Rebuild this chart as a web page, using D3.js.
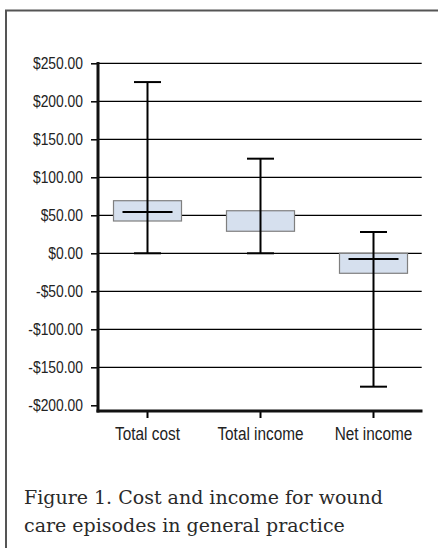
<!DOCTYPE html>
<html><head><meta charset="utf-8">
<script src="https://cdn.jsdelivr.net/npm/d3@7"></script>
<style>html,body{margin:0;padding:0;background:#fff;overflow:hidden}</style>
</head><body>
<svg id="c" width="438" height="548"></svg>
<script>
const categories = ["Total cost", "Total income", "Net income"];
const minVals = [0, 0, -175.5];
const q1Vals = [42.5, 29, -26.3];
const medianVals = [54.3, null, -7.5];
const q3Vals = [69.2, 56, 0];
const maxVals = [225.3, 124.5, 28];
const yTicks = [-200, -150, -100, -50, 0, 50, 100, 150, 200, 250];
const caption = ["Figure 1. Cost and income for wound", "care episodes in general practice"];

const svg = d3.select("#c");
const sans = "'Liberation Sans',Arial,sans-serif";

// frame
svg.append("rect").attr("x", 6).attr("y", 10.5).attr("width", 500).attr("height", 600)
  .attr("fill", "none").attr("stroke", "#555").attr("stroke-width", 2);

const y = d3.scaleLinear().domain([-207.5, 250]).range([411, 63.3]);
const x = d3.scaleBand().domain(categories).range([91, 430]);
const axX = 98, plotRight = 421.7;

// gridlines
svg.append("g").selectAll("line").data(yTicks.filter(t => t > -200)).join("line")
  .attr("x1", axX).attr("x2", plotRight)
  .attr("y1", d => y(d)).attr("y2", d => y(d))
  .attr("stroke", "#000").attr("stroke-width", 1.3);

// y axis
const ySx = 0.85;
const yAxis = d3.axisLeft(y).tickValues(yTicks).tickSize(7)
  .tickFormat(d => (d < 0 ? "-" : "") + "$" + Math.abs(d).toFixed(2));
const gy = svg.append("g").attr("transform", `translate(${axX},0)`).call(yAxis);
gy.select(".domain").remove();
gy.selectAll(".tick line").attr("stroke", "#000").attr("stroke-width", 1.5);
gy.selectAll(".tick text").attr("font-family", sans).attr("font-size", 16.3).attr("fill", "#222")
  .attr("x", -15 / ySx).attr("transform", `scale(${ySx},1)`);

const data = categories.map((c, i) => ({c, min: minVals[i], q1: q1Vals[i], med: medianVals[i], q3: q3Vals[i], max: maxVals[i]}));
const cx = d => x(d.c) + x.bandwidth() / 2;

// boxes
svg.append("g").selectAll("rect").data(data).join("rect")
  .attr("x", d => cx(d) - 34).attr("width", 68)
  .attr("y", d => y(d.q3)).attr("height", d => y(d.q1) - y(d.q3))
  .attr("fill", "#d6e0ee").attr("stroke", "#7f7f7f").attr("stroke-width", 1.2);

// whiskers
const w = svg.append("g").attr("stroke", "#000").attr("stroke-width", 2);
w.selectAll(".v").data(data).join("line")
  .attr("x1", cx).attr("x2", cx).attr("y1", d => y(d.max)).attr("y2", d => y(d.min));
w.selectAll(".top").data(data).join("line")
  .attr("x1", d => cx(d) - 13.5).attr("x2", d => cx(d) + 13.5).attr("y1", d => y(d.max)).attr("y2", d => y(d.max));
w.selectAll(".bot").data(data).join("line")
  .attr("x1", d => cx(d) - 13.5).attr("x2", d => cx(d) + 13.5).attr("y1", d => y(d.min)).attr("y2", d => y(d.min));
w.selectAll(".med").data(data.filter(d => d.med !== null)).join("line")
  .attr("x1", d => cx(d) - 25).attr("x2", d => cx(d) + 25).attr("y1", d => y(d.med)).attr("y2", d => y(d.med));

// y axis line
svg.append("line").attr("x1", axX).attr("x2", axX).attr("y1", 62).attr("y2", 412.5)
  .attr("stroke", "#111").attr("stroke-width", 3);

// x axis
const xSx = 0.83;
const xAxis = d3.axisBottom(x).tickSize(7);
const gx = svg.append("g").attr("transform", `translate(0,${y(-207.5)})`).call(xAxis);
gx.select(".domain").remove();
gx.selectAll(".tick line").attr("stroke", "#000").attr("stroke-width", 2);
gx.selectAll(".tick text").attr("font-family", sans).attr("font-size", 18.5).attr("fill", "#222")
  .attr("y", 29).attr("dy", 0).attr("transform", `scale(${xSx},1)`);
svg.append("line").attr("x1", axX - 1.5).attr("x2", 422.5).attr("y1", 411).attr("y2", 411)
  .attr("stroke", "#111").attr("stroke-width", 3);

// caption
svg.append("g").selectAll("text").data(caption).join("text")
  .attr("x", 24).attr("y", (d, i) => 504 + i * 28)
  .attr("font-family", "'DejaVu Serif',serif").attr("font-size", 19).attr("fill", "#2a2a2a")
  .text(d => d);
</script>
</body></html>
